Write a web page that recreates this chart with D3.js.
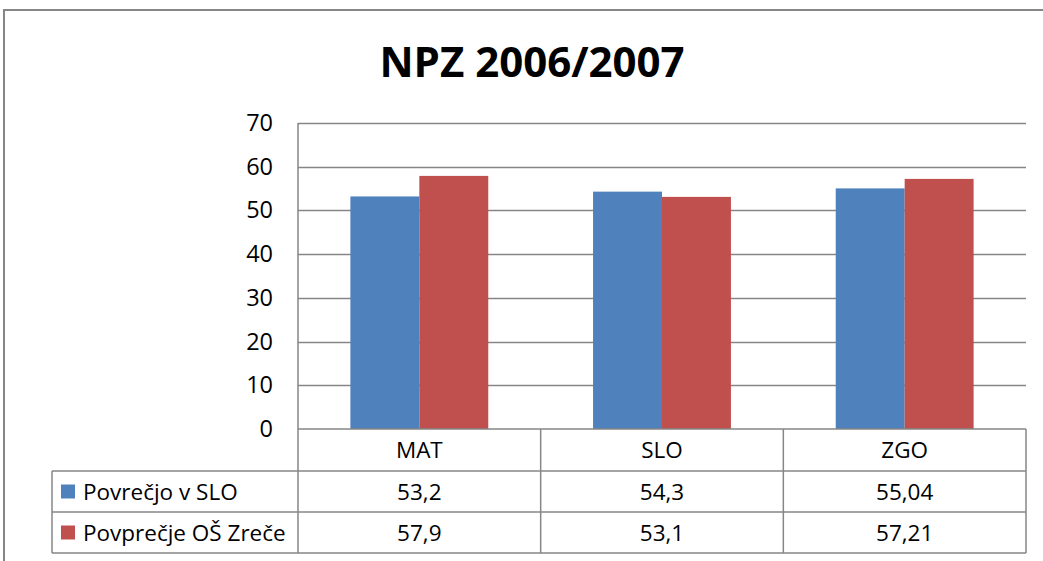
<!DOCTYPE html>
<html><head><meta charset="utf-8">
<script src="https://cdn.jsdelivr.net/npm/d3@7"></script>
<style>
html,body{margin:0;padding:0;background:#fff;}
text{font-family:"Open Sans","Noto Sans",sans-serif;fill:#000;}
</style></head>
<body><svg id="c" width="1043" height="561"></svg>
<script>
const title = "NPZ 2006/2007";
const categories = ["MAT", "SLO", "ZGO"];
const seriesNames = ["Povrečjo v SLO", "Povprečje OŠ Zreče"];
const seriesColors = ["#4F81BD", "#C0504D"];
const povrecjeSLO = [53.2, 54.3, 55.04];
const povprecjeZrece = [57.9, 53.1, 57.21];
const valueLabels = [["53,2", "54,3", "55,04"], ["57,9", "53,1", "57,21"]];
const yTicks = [0, 10, 20, 30, 40, 50, 60, 70];

(function () {
const seriesValues = [povrecjeSLO, povprecjeZrece];
const svg = d3.select("#c");
const grid = "#868686";
const fs = "22.5px";

svg.append("path").attr("d", "M4,561 V10 H1043").attr("fill", "none").attr("stroke", grid).attr("stroke-width", 2);

const pL = 298, pR = 1026, pT = 123, pB = 429;
const y = d3.scaleLinear().domain([0, 70]).range([pB, pT]);
const x = d3.scaleBand().domain(categories).range([pL, pR]).padding(0);
const xs = d3.scaleBand().domain(d3.range(seriesNames.length)).range([0, x.bandwidth()]).paddingInner(0).paddingOuter(0.76);

svg.append("text").attr("x", 532).attr("y", 77).attr("text-anchor", "middle")
  .style("font-weight", "bold").style("font-size", "42px").text(title);

svg.append("g").selectAll("line").data(yTicks.filter(d => d > 0)).join("line")
  .attr("x1", pL).attr("x2", pR).attr("y1", d => Math.round(y(d)) + 0.5).attr("y2", d => Math.round(y(d)) + 0.5)
  .attr("stroke", grid).attr("stroke-width", 1.5);

const yAxis = d3.axisLeft(y).tickValues(yTicks).tickSize(0).tickPadding(25);
const ga = svg.append("g").attr("transform", `translate(${pL},0)`).call(yAxis);
ga.select(".domain").remove();
ga.selectAll("text").style("font-size", "23.5px").style("font-family", '"Open Sans","Noto Sans",sans-serif').attr("fill", "#000");

seriesValues.forEach((vals, si) => {
  svg.append("g").selectAll("rect").data(vals).join("rect")
    .attr("x", (d, i) => x(categories[i]) + xs(si))
    .attr("width", xs.bandwidth())
    .attr("y", d => y(d))
    .attr("height", d => y(0) - y(d))
    .attr("fill", seriesColors[si]);
});

const rowH = [429, 471, 512, 553];
const legendLeft = 52;
const tbl = svg.append("g").attr("stroke", grid).attr("stroke-width", 1.5).attr("fill", "none");
tbl.append("line").attr("x1", pL).attr("x2", pR).attr("y1", rowH[0]).attr("y2", rowH[0]);
[1, 2, 3].forEach(r => tbl.append("line").attr("x1", legendLeft).attr("x2", pR).attr("y1", rowH[r]).attr("y2", rowH[r]));
tbl.append("line").attr("x1", pL).attr("x2", pL).attr("y1", pT).attr("y2", rowH[3]);
categories.forEach((c) => {
  const xe = x(c) + x.bandwidth();
  tbl.append("line").attr("x1", xe).attr("x2", xe).attr("y1", rowH[0]).attr("y2", rowH[3]);
});
tbl.append("line").attr("x1", legendLeft).attr("x2", legendLeft).attr("y1", rowH[1]).attr("y2", rowH[3]);

svg.append("g").selectAll("text").data(categories).join("text")
  .attr("x", d => x(d) + x.bandwidth() / 2).attr("y", (rowH[0] + rowH[1]) / 2 + 8)
  .attr("text-anchor", "middle").style("font-size", fs).text(d => d);

seriesNames.forEach((name, si) => {
  const cy = (rowH[si + 1] + rowH[si + 2]) / 2;
  svg.append("rect").attr("x", 61).attr("y", cy - 7).attr("width", 14).attr("height", 14).attr("fill", seriesColors[si]);
  svg.append("text").attr("x", 83).attr("y", cy + 8).style("font-size", fs).text(name);
  svg.append("g").selectAll("text").data(valueLabels[si]).join("text")
    .attr("x", (d, i) => x(categories[i]) + x.bandwidth() / 2).attr("y", cy + 8)
    .attr("text-anchor", "middle").style("font-size", fs).text(d => d);
});
})();
</script></body></html>
